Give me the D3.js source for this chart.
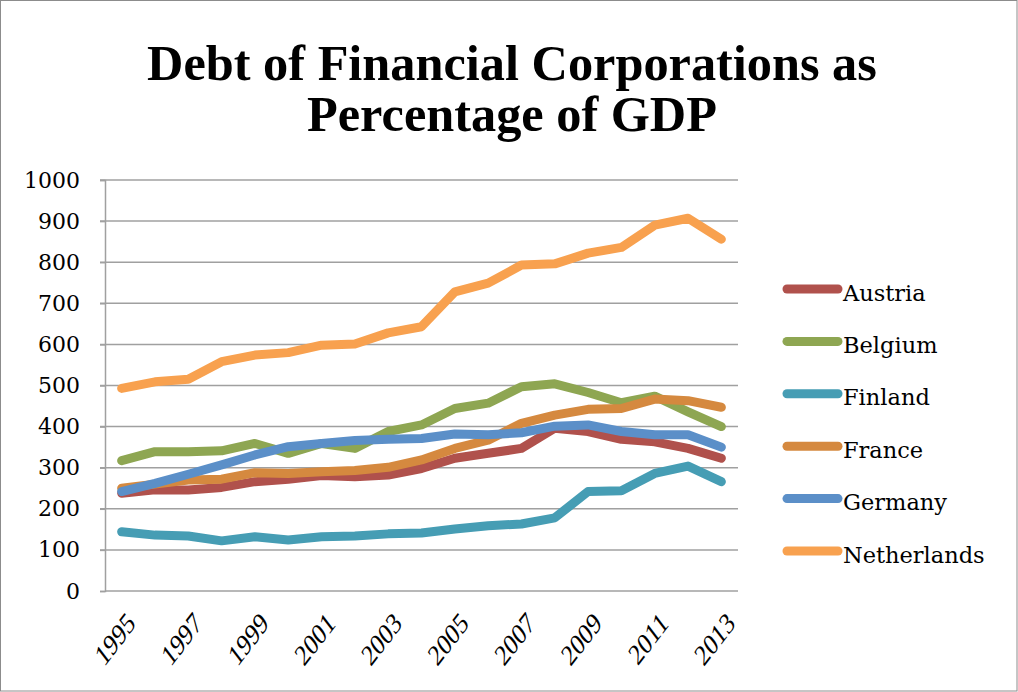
<!DOCTYPE html>
<html>
<head>
<meta charset="utf-8">
<script src="https://cdn.jsdelivr.net/npm/d3@7"></script>
<style>
  html, body { margin: 0; padding: 0; background: #fff; }
  svg { display: block; }
</style>
</head>
<body>
<svg id="chart" width="1018" height="692"></svg>
<script>
// Years on the category axis
const years = [1995, 1996, 1997, 1998, 1999, 2000, 2001, 2002, 2003, 2004,
               2005, 2006, 2007, 2008, 2009, 2010, 2011, 2012, 2013];

// Debt of financial corporations, % of GDP
const austria     = [238, 246, 246, 252, 266, 272, 281, 278, 282, 298, 323, 335, 347, 396, 388, 369, 363, 347, 323];
const belgium     = [317, 339, 339, 341, 359, 335, 359, 347, 388, 404, 444, 457, 497, 504, 483, 458, 474, 436, 400];
const finland     = [144, 136, 134, 122, 132, 124, 132, 134, 139, 141, 151, 159, 163, 178, 242, 244, 286, 304, 266];
const france      = [250, 260, 270, 272, 288, 286, 290, 293, 301, 319, 347, 367, 408, 428, 442, 444, 467, 463, 447];
const germany     = [242, 262, 284, 307, 331, 351, 359, 366, 369, 371, 382, 380, 385, 401, 404, 388, 380, 380, 350];
const netherlands = [493, 509, 515, 558, 574, 580, 598, 601, 628, 643, 728, 749, 793, 796, 822, 836, 890, 907, 856];

const seriesNames  = ["Austria", "Belgium", "Finland", "France", "Germany", "Netherlands"];
const seriesValues = [austria, belgium, finland, france, germany, netherlands];
const seriesColors = ["#b0514c", "#8ea652", "#469db4", "#d5893f", "#5b8fc8", "#f8a14f"];

const yTicks = [0, 100, 200, 300, 400, 500, 600, 700, 800, 900, 1000];
const xLabelYears = [1995, 1997, 1999, 2001, 2003, 2005, 2007, 2009, 2011, 2013];

const svg = d3.select("#chart");
const W = 1018, H = 692;

// outer frame
svg.append("rect")
  .attr("x", 0.5).attr("y", 0.5)
  .attr("width", W - 1.5).attr("height", H - 1.5)
  .attr("fill", "#fff").attr("stroke", "#8c8c8c").attr("stroke-width", 1);

const plot = { left: 105, right: 738, top: 180, bottom: 591 };

const x = d3.scaleBand()
  .domain(years)
  .range([plot.left, plot.right]);

const y = d3.scaleLinear()
  .domain([0, 1000])
  .range([plot.bottom, plot.top]);

const xc = d => x(d) + x.bandwidth() / 2;

// gridlines
svg.append("g")
  .selectAll("line")
  .data(yTicks.filter(d => d > 0))
  .join("line")
  .attr("x1", plot.left - 5).attr("x2", plot.right)
  .attr("y1", d => y(d)).attr("y2", d => y(d))
  .attr("stroke", "#a0a0a0").attr("stroke-width", 1.5);

// y axis
const yAxis = svg.append("g")
  .attr("transform", `translate(${plot.left},0)`)
  .call(d3.axisLeft(y).tickValues(yTicks).tickSize(5).tickPadding(20).tickFormat(d3.format("d")));
yAxis.select(".domain").attr("stroke", "#a0a0a0").attr("stroke-width", 1.5);
yAxis.selectAll(".tick line").attr("stroke", "#a0a0a0").attr("stroke-width", 1.5);
yAxis.selectAll(".tick text")
  .attr("font-family", "'DejaVu Serif', 'Liberation Serif', serif")
  .attr("font-size", 22).attr("fill", "#000");

// x axis line
svg.append("line")
  .attr("x1", plot.left).attr("x2", plot.right)
  .attr("y1", plot.bottom).attr("y2", plot.bottom)
  .attr("stroke", "#a0a0a0").attr("stroke-width", 1.5);

// x labels (every other year), slanted upward
svg.append("g")
  .selectAll("text")
  .data(xLabelYears)
  .join("text")
  .attr("transform", d => `translate(${xc(d) + 15},${plot.bottom + 34}) scale(1,1.3) rotate(-45)`)
  .attr("text-anchor", "end")
  .attr("font-family", "'Liberation Serif', 'Times New Roman', serif")
  .attr("font-size", 23)
  .attr("fill", "#000")
  .text(d => d);

// series lines
const line = d3.line()
  .x((d, i) => xc(years[i]))
  .y(d => y(d));

svg.append("g")
  .selectAll("path")
  .data(seriesValues)
  .join("path")
  .attr("d", d => line(d))
  .attr("fill", "none")
  .attr("stroke", (d, i) => seriesColors[i])
  .attr("stroke-width", 9)
  .attr("stroke-linecap", "round")
  .attr("stroke-linejoin", "round");

// legend
const legend = svg.append("g");
const legendRows = legend.selectAll("g")
  .data(seriesNames)
  .join("g")
  .attr("transform", (d, i) => `translate(0,${289 + i * 52.4})`);
legendRows.append("line")
  .attr("x1", 787).attr("x2", 838)
  .attr("y1", 0).attr("y2", 0)
  .attr("stroke", (d, i) => seriesColors[i])
  .attr("stroke-width", 9)
  .attr("stroke-linecap", "round");
legendRows.append("text")
  .attr("x", 843).attr("y", 11.5)
  .attr("font-family", "'DejaVu Serif', 'Liberation Serif', serif")
  .attr("font-size", 22.5)
  .attr("fill", "#000")
  .text(d => d);

// title, first line fitted to a 730px width
const title = svg.append("text")
  .attr("text-anchor", "middle")
  .attr("font-family", "'Liberation Serif', 'Times New Roman', serif")
  .attr("font-weight", "bold")
  .attr("font-size", 46)
  .attr("fill", "#000");
const t1 = title.append("tspan").attr("x", 512).attr("y", 80).text("Debt of Financial Corporations as");
title.append("tspan").attr("x", 512).attr("y", 131).text("Percentage of GDP");
const w1 = t1.node().getComputedTextLength();
title.attr("font-size", 46 * 730 / w1);
</script>
</body>
</html>
